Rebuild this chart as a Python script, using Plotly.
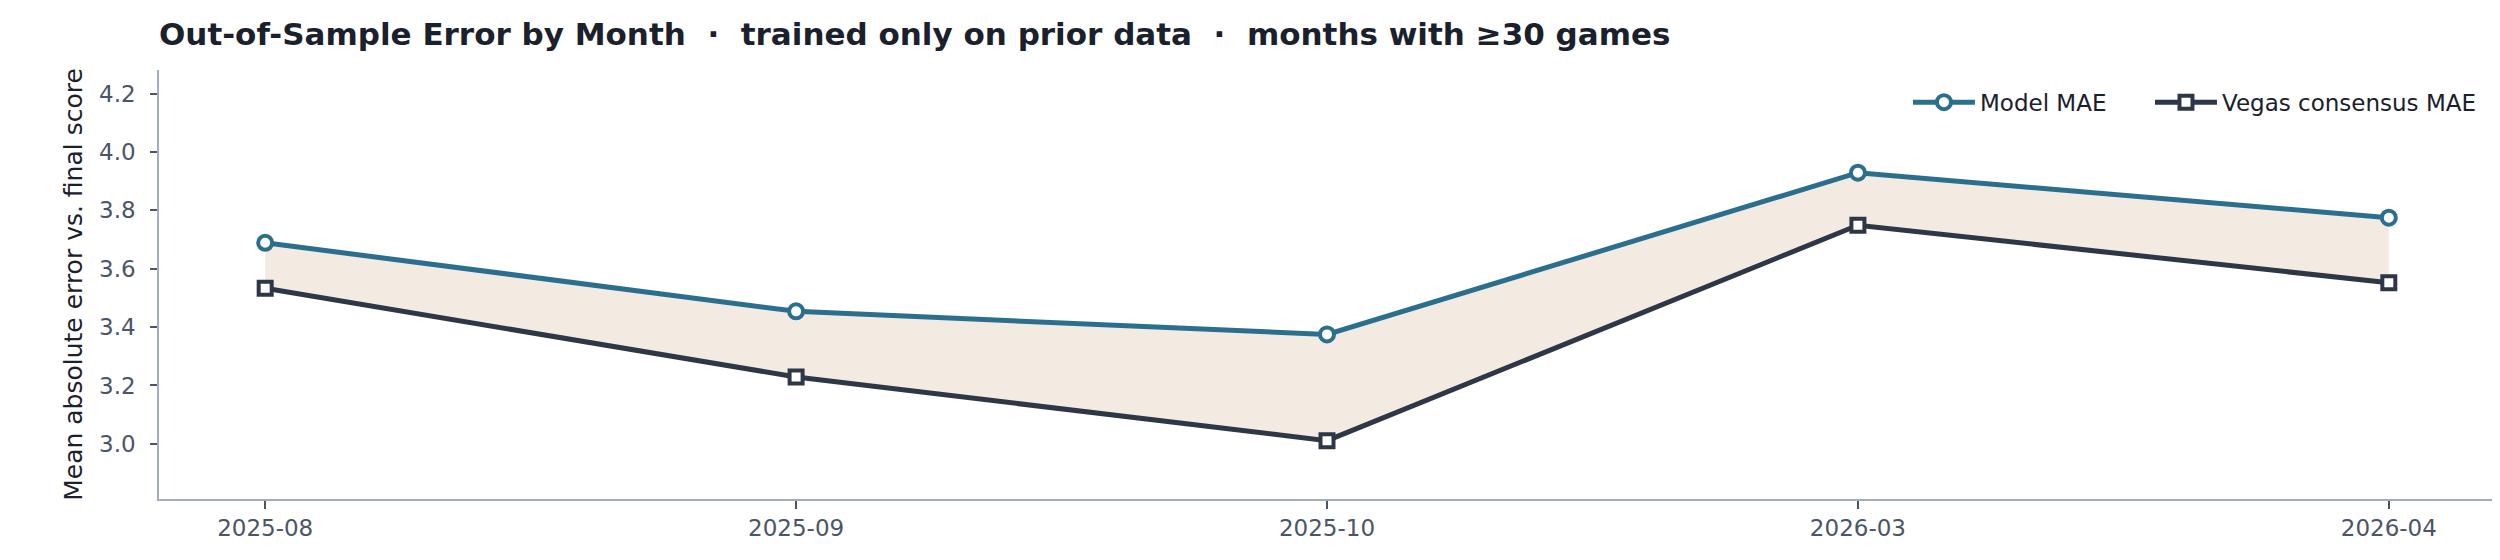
import plotly.graph_objects as go

months = ["2025-08", "2025-09", "2025-10", "2026-03", "2026-04"]
model_mae = [3.689, 3.454, 3.375, 3.929, 3.775]
vegas_mae = [3.533, 3.229, 3.011, 3.749, 3.552]
y_ticks = [3.0, 3.2, 3.4, 3.6, 3.8, 4.0, 4.2]

MODEL_C = "#2b6f8e"
VEGAS_C = "#2d3748"
FILL_C = "#f3eae1"
AXIS_C = "#a0aec0"
TEXT_C = "#4a5568"
FONT = "DejaVu Sans"

fig = go.Figure()

# shaded gap between the two series
fig.add_trace(go.Scatter(x=months, y=vegas_mae, mode="lines",
                         line=dict(width=1, color="#ead8c8"),
                         showlegend=False, hoverinfo="skip"))
fig.add_trace(go.Scatter(x=months, y=model_mae, mode="lines",
                         line=dict(width=1, color="#ead8c8"),
                         fill="tonexty", fillcolor=FILL_C,
                         showlegend=False, hoverinfo="skip"))

fig.add_trace(go.Scatter(
    x=months, y=model_mae, mode="lines+markers", name="Model MAE",
    line=dict(color=MODEL_C, width=5),
    marker=dict(symbol="circle", size=14, color="white",
                line=dict(color=MODEL_C, width=4)),
    legend="legend",
))
fig.add_trace(go.Scatter(
    x=months, y=vegas_mae, mode="lines+markers", name="Vegas consensus MAE",
    line=dict(color=VEGAS_C, width=5),
    marker=dict(symbol="square", size=13, color="white",
                line=dict(color=VEGAS_C, width=4)),
    legend="legend2",
))

legend_common = dict(
    orientation="h", xanchor="left", y=0.925, yanchor="middle",
    itemwidth=62,
    font=dict(family=FONT, size=23, color="#1a202c"),
    bgcolor="rgba(0,0,0,0)",
)

fig.update_layout(
    width=2500, height=560,
    margin=dict(l=151, r=13, t=62, b=69),
    paper_bgcolor="white", plot_bgcolor="white",
    font=dict(family=FONT, size=23, color=TEXT_C),
    title=dict(
        text="<b>Out-of-Sample Error by Month  ·  trained only on prior data  ·  months with ≥30 games</b>",
        x=151 / 2500, xanchor="left", y=1 - 26 / 560, yanchor="middle",
        font=dict(family=FONT, size=31, color="#1a202c"),
    ),
    legend=dict(x=0.7487, **legend_common),
    legend2=dict(x=0.8523, **legend_common),
    showlegend=True,
)

fig.update_xaxes(
    type="category", range=[-0.2, 4.2],
    showgrid=False, zeroline=False,
    showline=True, linecolor=AXIS_C, linewidth=1.5,
    ticks="outside", ticklen=8, tickwidth=1.5, tickcolor=TEXT_C,
    ticklabelstandoff=0,
    tickfont=dict(family=FONT, size=23, color=TEXT_C),
)
fig.update_yaxes(
    range=[2.811, 4.281],
    tickvals=y_ticks, ticktext=[f"{v:.1f}" for v in y_ticks],
    showgrid=False, zeroline=False,
    showline=True, linecolor=AXIS_C, linewidth=1.5,
    ticks="outside", ticklen=7, tickwidth=1.5, tickcolor=TEXT_C,
    ticklabelstandoff=10,
    tickfont=dict(family=FONT, size=23, color=TEXT_C),
    title=dict(text="Mean absolute error vs. final score",
               font=dict(family=FONT, size=25, color="#1a202c"), standoff=9),
)

fig.write_html("out.html")
